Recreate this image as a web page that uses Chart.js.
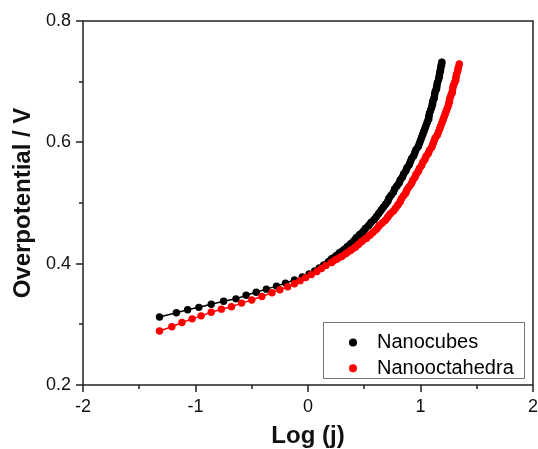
<!DOCTYPE html>
<html>
<head>
<meta charset="utf-8">
<script src="https://cdn.jsdelivr.net/npm/chart.js@4/dist/chart.umd.min.js"></script>
<style>
html,body{margin:0;padding:0;background:#fff;}
#wrap{width:538px;height:449px;position:relative;}
</style>
</head>
<body>
<div id="wrap"><canvas id="c" width="538" height="449"></canvas></div>
<script>
// Data
const seriesNames = ["Nanocubes", "Nanooctahedra"];
const seriesColors = ["#000000", "#ff0000"];

const cubesLogJ = [-1.32,-1.17,-1.07,-0.97,-0.86,-0.75,-0.64,-0.55,-0.46,-0.37,-0.28,-0.20,-0.12,-0.05,0.01,0.06,0.10,0.14,0.18,0.21,0.25,0.28,0.32,0.35,0.38,0.41,0.43,0.46,0.49,0.51,0.54,0.56,0.59,0.61,0.63,0.65,0.67,0.69,0.71,0.72,0.74,0.76,0.77,0.79,0.81,0.82,0.84,0.85,0.87,0.88,0.90,0.91,0.92,0.94,0.95,0.96,0.98,0.99,1.00,1.01,1.02,1.03,1.04,1.05,1.06,1.07,1.075,1.08,1.09,1.10,1.105,1.11,1.12,1.125,1.13,1.14,1.145,1.15,1.16,1.165,1.17,1.175,1.18,1.185,1.19];
const cubesEta = [0.312,0.319,0.324,0.328,0.333,0.338,0.342,0.348,0.353,0.358,0.363,0.368,0.373,0.378,0.383,0.388,0.393,0.398,0.403,0.408,0.413,0.418,0.423,0.428,0.433,0.438,0.443,0.448,0.453,0.458,0.463,0.468,0.473,0.478,0.483,0.488,0.493,0.498,0.503,0.508,0.513,0.518,0.523,0.528,0.533,0.538,0.543,0.548,0.553,0.558,0.563,0.568,0.573,0.578,0.583,0.588,0.593,0.598,0.603,0.608,0.613,0.618,0.623,0.628,0.633,0.638,0.643,0.648,0.653,0.658,0.663,0.668,0.673,0.678,0.683,0.688,0.693,0.698,0.703,0.708,0.713,0.718,0.723,0.728,0.732];

const octaLogJ = [-1.32,-1.21,-1.12,-1.03,-0.95,-0.86,-0.77,-0.68,-0.59,-0.50,-0.41,-0.32,-0.25,-0.18,-0.12,-0.07,-0.02,0.03,0.08,0.12,0.16,0.21,0.25,0.30,0.34,0.38,0.42,0.45,0.48,0.52,0.55,0.58,0.61,0.63,0.66,0.69,0.71,0.73,0.76,0.78,0.80,0.82,0.83,0.85,0.87,0.88,0.90,0.92,0.93,0.95,0.96,0.98,0.99,1.01,1.02,1.04,1.05,1.07,1.08,1.10,1.11,1.12,1.13,1.15,1.16,1.17,1.18,1.19,1.20,1.21,1.22,1.23,1.24,1.25,1.255,1.26,1.27,1.28,1.285,1.29,1.30,1.31,1.315,1.32,1.33,1.335,1.345];
const octaEta = [0.289,0.296,0.303,0.309,0.314,0.320,0.325,0.329,0.335,0.340,0.346,0.352,0.357,0.362,0.367,0.372,0.377,0.382,0.387,0.392,0.397,0.402,0.407,0.412,0.417,0.422,0.427,0.432,0.437,0.442,0.447,0.452,0.457,0.462,0.467,0.472,0.477,0.482,0.487,0.492,0.497,0.502,0.507,0.512,0.517,0.522,0.527,0.532,0.537,0.542,0.547,0.552,0.557,0.562,0.567,0.572,0.577,0.582,0.587,0.592,0.597,0.602,0.607,0.612,0.617,0.622,0.627,0.632,0.637,0.642,0.647,0.652,0.657,0.662,0.667,0.672,0.677,0.682,0.687,0.692,0.697,0.702,0.707,0.712,0.717,0.722,0.729];

// log(j) above which the reference markers merge into a continuous thick trace
const mergeFrom = [0.18, 0.21];

const xTickLabels = ["-2","-1","0","1","2"];
const yTickLabels = ["0.2","0.4","0.6","0.8"];
const xTitle = "Log (j)";
const yTitle = "Overpotential / V";

const FONT = "'Liberation Sans', Arial, sans-serif";

function pts(xs, ys){ return xs.map((x,i)=>({x:x, y:ys[i]})); }
function ptsFrom(xs, ys, lim){ return pts(xs, ys).filter(p => p.x >= lim); }

const frame = {
  id: 'frame',
  afterDraw(chart){
    const ctx = chart.ctx, a = chart.chartArea;
    const xs = chart.scales.x, ys = chart.scales.y;
    ctx.save();
    ctx.strokeStyle = '#222';
    ctx.lineWidth = 1.5;
    ctx.strokeRect(a.left, a.top, a.right - a.left, a.bottom - a.top);
    // ticks
    ctx.beginPath();
    xs.ticks.forEach(t=>{
      const px = Math.round(xs.getPixelForValue(t.value)) ;
      const major = Math.abs(t.value - Math.round(t.value)) < 1e-6;
      ctx.moveTo(px, a.bottom); ctx.lineTo(px, a.bottom + (major ? 7 : 4));
    });
    ys.ticks.forEach(t=>{
      const py = Math.round(ys.getPixelForValue(t.value));
      const major = Math.round(t.value*10) % 2 === 0;
      ctx.moveTo(a.left, py); ctx.lineTo(a.left - (major ? 7 : 4), py);
    });
    ctx.stroke();
    // legend
    const bx = a.right - 210, by = a.bottom - 63, bw = 201, bh = 56;
    ctx.fillStyle = '#fff';
    ctx.fillRect(bx, by, bw, bh);
    ctx.strokeStyle = '#777';
    ctx.lineWidth = 1;
    ctx.strokeRect(bx + 0.5, by + 0.5, bw, bh);
    ctx.font = '20px ' + FONT;
    ctx.textBaseline = 'middle';
    ctx.textAlign = 'left';
    chart.data.datasets.slice(0, 2).forEach((d, i)=>{
      const cy = by + 20.5 + i * 25.7;
      ctx.fillStyle = d.borderColor;
      ctx.beginPath();
      ctx.arc(bx + 30, cy, 4, 0, Math.PI*2);
      ctx.fill();
      ctx.fillStyle = '#000';
      ctx.fillText(d.label, bx + 54, cy);
    });
    ctx.restore();
  }
};

function markerSet(label, data, color, order){
  return { label: label, data: data, borderColor: color, backgroundColor: color,
    borderWidth: 1.5, pointRadius: 3.7, pointBorderWidth: 0, pointHoverRadius: 3.7,
    fill: false, tension: 0, order: order };
}
function traceSet(label, data, color, order){
  return { label: label, data: data, borderColor: color, backgroundColor: color,
    borderWidth: 7, pointRadius: 0, pointHoverRadius: 0, fill: false, tension: 0,
    borderJoinStyle: 'round', borderCapStyle: 'round', order: order };
}

new Chart(document.getElementById('c'), {
  type: 'line',
  data: {
    datasets: [
      markerSet(seriesNames[0], pts(cubesLogJ, cubesEta), seriesColors[0], 4),
      markerSet(seriesNames[1], pts(octaLogJ, octaEta), seriesColors[1], 2),
      traceSet(seriesNames[0] + ' trace', ptsFrom(cubesLogJ, cubesEta, mergeFrom[0]), seriesColors[0], 3),
      traceSet(seriesNames[1] + ' trace', ptsFrom(octaLogJ, octaEta, mergeFrom[1]), seriesColors[1], 1)
    ]
  },
  options: {
    responsive: false,
    animation: false,
    events: [],
    layout: { padding: { left: 0, top: 21, right: 5, bottom: 0 } },
    plugins: { legend: { display: false }, tooltip: { enabled: false } },
    scales: {
      x: {
        type: 'linear', min: -2, max: 2,
        grid: { display: false },
        border: { display: false },
        ticks: {
          stepSize: 0.5, autoSkip: false, maxRotation: 0, padding: 3, color: '#111',
          font: { family: FONT, size: 18 },
          callback: (v)=> Math.abs(v - Math.round(v)) < 1e-6 ? xTickLabels[Math.round(v) + 2] : ''
        },
        title: { display: true, text: xTitle, color: '#111', font: { family: FONT, size: 24, weight: 'bold' }, padding: { top: 0, bottom: -2 } },
        afterFit: (s)=>{ s.height = 64; s.paddingLeft = 0; s.paddingRight = 0; }
      },
      y: {
        type: 'linear', min: 0.2, max: 0.8,
        grid: { display: false },
        border: { display: false },
        ticks: {
          stepSize: 0.1, autoSkip: false, padding: 4, color: '#111',
          font: { family: FONT, size: 18 },
          callback: (v)=> { const k = Math.round(v*10); return k % 2 === 0 ? yTickLabels[(k-2)/2] : ''; }
        },
        title: { display: true, text: yTitle, color: '#111', font: { family: FONT, size: 24, weight: 'bold' }, padding: { top: 9, bottom: 0 } },
        afterFit: (s)=>{ s.width = 83; s.paddingTop = 0; s.paddingBottom = 0; }
      }
    }
  },
  plugins: [frame]
});
</script>
</body>
</html>
